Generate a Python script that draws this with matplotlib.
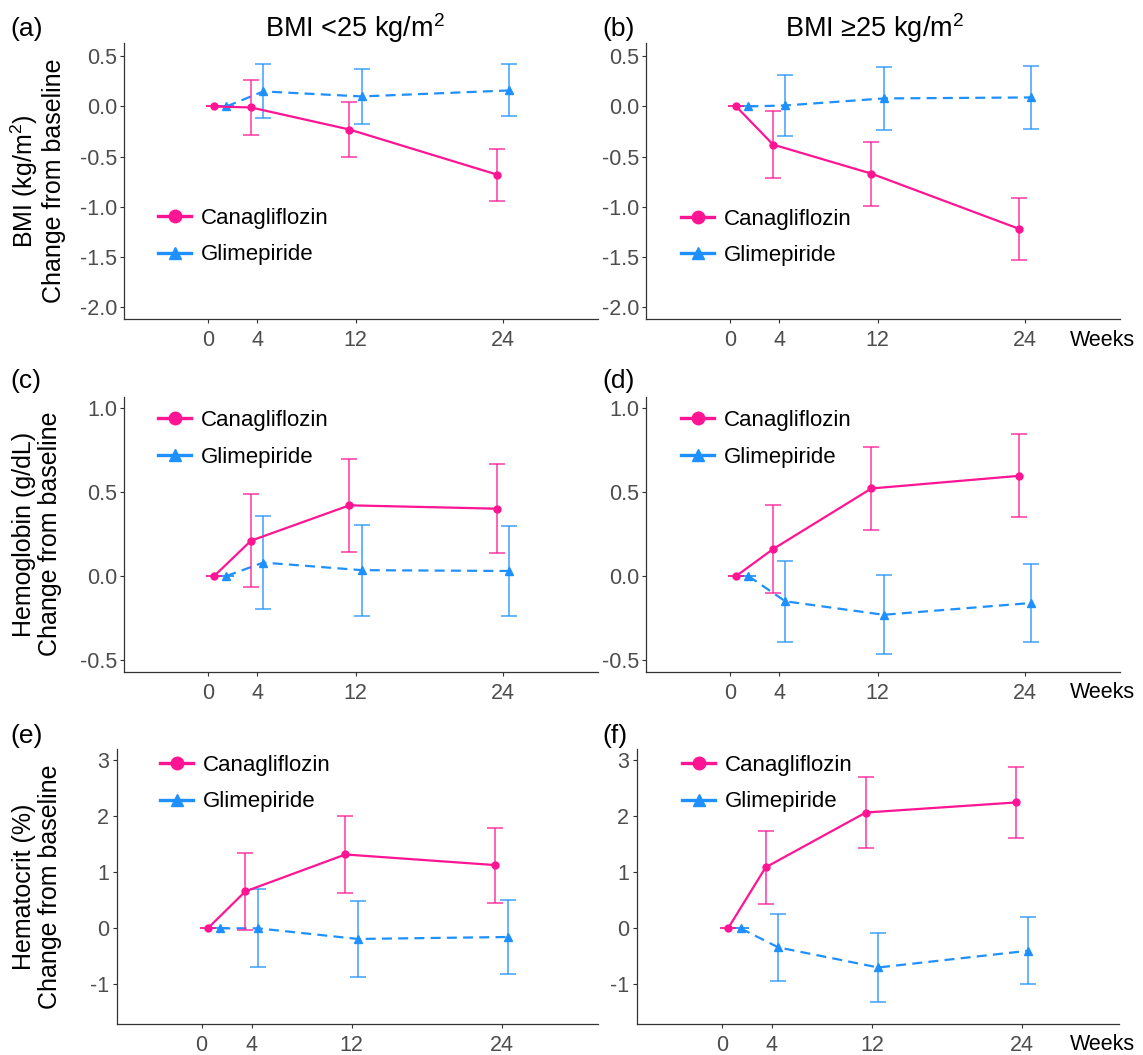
import matplotlib
matplotlib.use("Agg")
import matplotlib.pyplot as plt
from matplotlib.lines import Line2D

plt.rcParams['font.family'] = ['Liberation Sans', 'DejaVu Sans']
plt.rcParams['mathtext.fontset'] = 'custom'
plt.rcParams['mathtext.rm'] = 'Liberation Sans'
plt.rcParams['mathtext.default'] = 'regular'
plt.rcParams['axes.unicode_minus'] = False

# ---------------- data ----------------
weeks = [1, 4, 12, 24]          # plotting positions (baseline shown at week ~1)
tick_weeks = [0, 4, 12, 24]
tick_labels = ["0", "4", "12", "24"]
series_names = ["Canagliflozin", "Glimepiride"]

# (a) BMI, BMI <25
a_cana = [0.0, -0.01, -0.23, -0.68]
a_cana_se = [0.0, 0.27, 0.27, 0.26]
a_glim = [0.0, 0.15, 0.10, 0.16]
a_glim_se = [0.0, 0.27, 0.27, 0.26]
# (b) BMI, BMI >=25
b_cana = [0.0, -0.38, -0.67, -1.22]
b_cana_se = [0.0, 0.33, 0.32, 0.31]
b_glim = [0.0, 0.01, 0.08, 0.09]
b_glim_se = [0.0, 0.30, 0.31, 0.31]
# (c) Hemoglobin, BMI <25
c_cana = [0.0, 0.21, 0.42, 0.40]
c_cana_se = [0.0, 0.275, 0.275, 0.265]
c_glim = [0.0, 0.08, 0.035, 0.03]
c_glim_se = [0.0, 0.275, 0.27, 0.265]
# (d) Hemoglobin, BMI >=25
d_cana = [0.0, 0.16, 0.52, 0.595]
d_cana_se = [0.0, 0.26, 0.245, 0.247]
d_glim = [0.0, -0.15, -0.23, -0.16]
d_glim_se = [0.0, 0.24, 0.235, 0.232]
# (e) Hematocrit, BMI <25
e_cana = [0.0, 0.66, 1.32, 1.13]
e_cana_se = [0.0, 0.685, 0.68, 0.67]
e_glim = [0.0, 0.0, -0.19, -0.155]
e_glim_se = [0.0, 0.70, 0.68, 0.66]
# (f) Hematocrit, BMI >=25
f_cana = [0.0, 1.09, 2.07, 2.25]
f_cana_se = [0.0, 0.65, 0.63, 0.63]
f_glim = [0.0, -0.34, -0.70, -0.40]
f_glim_se = [0.0, 0.60, 0.61, 0.595]

col_titles = ["BMI <25 kg/$m^{2}$", "BMI \u226525 kg/$m^{2}$"]
row_ylabels = ["BMI (kg/$m^{2}$)\nChange from baseline",
               "Hemoglobin (g/dL)\nChange from baseline",
               "Hematocrit (%)\nChange from baseline"]
row_yticks = [[-2.0, -1.5, -1.0, -0.5, 0.0, 0.5],
              [-0.5, 0.0, 0.5, 1.0],
              [-1, 0, 1, 2, 3]]
row_yticklabels = [["-2.0", "-1.5", "-1.0", "-0.5", "0.0", "0.5"],
                   ["-0.5", "0.0", "0.5", "1.0"],
                   ["-1", "0", "1", "2", "3"]]
row_ylims = [(-2.12, 0.63), (-0.568, 1.065), (-1.71, 3.2)]
panel_tags = ["(a)", "(b)", "(c)", "(d)", "(e)", "(f)"]

# ---------------- style ----------------
W, H = 1143, 1055
CANA = "#FF1493"
GLIM = "#1E90FF"
dodge = 0.5
xlim = (-6.8, 31.7)

# axes boxes in pixels: left, right, top, bottom
boxes = [(124.3, 598, 43.3, 319), (646.4, 1119.7, 43.3, 319),
         (124.3, 598, 396.7, 671.7), (646.4, 1119.7, 396.7, 671.7),
         (116.5, 598, 749.3, 1024), (636.7, 1118.6, 749.3, 1024)]
legend_pos = [(158, 236.7), (681, 237.3), (158, 438.8), (681, 438.8),
              (160, 783.7), (682, 783.7)]
tag_pos = [(10, 29), (602, 29), (10, 381), (602, 381), (10, 736), (602, 736)]

data = [(a_cana, a_cana_se, a_glim, a_glim_se), (b_cana, b_cana_se, b_glim, b_glim_se),
        (c_cana, c_cana_se, c_glim, c_glim_se), (d_cana, d_cana_se, d_glim, d_glim_se),
        (e_cana, e_cana_se, e_glim, e_glim_se), (f_cana, f_cana_se, f_glim, f_glim_se)]

fig = plt.figure(figsize=(W / 100, H / 100), dpi=100)

def fx(px):
    return px / W

def fy(py):
    return 1 - py / H

for i, (cana, cana_se, glim, glim_se) in enumerate(data):
    row, col = divmod(i, 2)
    l, r, t, b = boxes[i]
    ax = fig.add_axes([fx(l), fy(b), (r - l) / W, (b - t) / H])
    xc = [w - dodge for w in weeks]
    xg = [w + dodge for w in weeks]

    ax.errorbar(xg, glim, yerr=glim_se, fmt='none', ecolor=GLIM, elinewidth=1.1,
                capsize=5.5, capthick=1.1, alpha=0.85, zorder=2)
    ax.plot(xg, glim, color=GLIM, lw=1.6, ls=(0, (4.5, 2.8)), marker='^', ms=6,
            zorder=3)
    ax.errorbar(xc, cana, yerr=cana_se, fmt='none', ecolor=CANA, elinewidth=1.1,
                capsize=5.5, capthick=1.1, alpha=0.85, zorder=4)
    ax.plot(xc, cana, color=CANA, lw=1.6, ls='-', marker='o', ms=5, zorder=5)

    ax.set_xlim(*xlim)
    ax.set_ylim(*row_ylims[row])
    ax.set_xticks(tick_weeks)
    ax.set_xticklabels(tick_labels)
    ax.set_yticks(row_yticks[row])
    ax.set_yticklabels(row_yticklabels[row])
    for s in ['top', 'right']:
        ax.spines[s].set_visible(False)
    for s in ['left', 'bottom']:
        ax.spines[s].set_color('#333333')
        ax.spines[s].set_linewidth(0.9)
    ax.tick_params(axis='both', direction='out', length=2.8, width=0.8,
                   color='#333333', labelcolor='#4D4D4D', labelsize=15.5)
    ax.tick_params(axis='x', pad=5)
    ax.tick_params(axis='y', pad=2.5)
    ax.set_facecolor('none')

    handles = [Line2D([], [], color=CANA, lw=2.4, marker='o', ms=9),
               Line2D([], [], color=GLIM, lw=2.4, marker='^', ms=9)]
    lx, ly = legend_pos[i]
    ax.legend(handles, series_names, loc='center left',
              bbox_to_anchor=(fx(lx), fy(ly)), bbox_transform=fig.transFigure,
              frameon=False, borderpad=0, borderaxespad=0, handlelength=1.5,
              handletextpad=0.45, labelspacing=0.7, fontsize=16)

    tx, ty = tag_pos[i]
    fig.text(fx(tx), fy(ty), panel_tags[i], fontsize=19, ha='left', va='center',
             color='black')

    if col == 0:
        fig.text(fx(37), fy((t + b) / 2), row_ylabels[row], rotation=90,
                 fontsize=18, ha='center', va='center', multialignment='center',
                 linespacing=1.1, color='black')
    else:
        fig.text(fx(1070), fy(b + 21), "Weeks", fontsize=15.5, ha='left',
                 va='center', color='black')

fig.text(fx(355), fy(28), col_titles[0], fontsize=19.5, ha='center', va='center')
fig.text(fx(875), fy(28), col_titles[1], fontsize=19.5, ha='center', va='center')

fig.savefig("out.png", dpi=100, facecolor='white')
